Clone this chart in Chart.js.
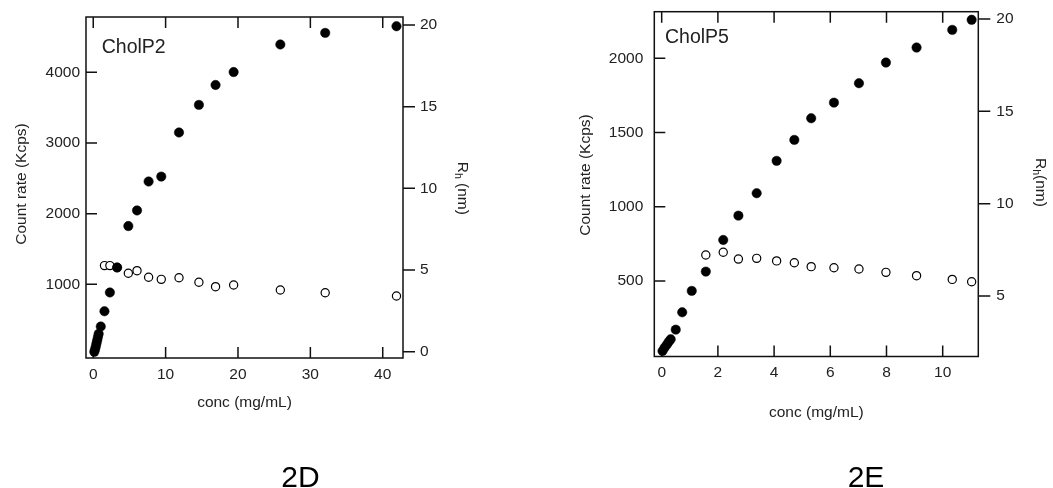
<!DOCTYPE html>
<html>
<head>
<meta charset="utf-8">
<script src="https://cdn.jsdelivr.net/npm/chart.js@4.4.1/dist/chart.umd.min.js"></script>
<style>
  html, body { margin: 0; padding: 0; background: #fff; }
  #wrap { position: relative; width: 1053px; height: 488px; overflow: hidden; }
  canvas { position: absolute; top: 0; }
  #c1 { left: 0; }
  #c2 { left: 527px; }
</style>
</head>
<body>
<div id="wrap">
  <canvas id="c1" width="527" height="488"></canvas>
  <canvas id="c2" width="526" height="488"></canvas>
</div>
<script>
// ---- CholP2 (panel 2D) ----
const conc2D  = [0.15, 0.25, 0.35, 0.45, 0.55, 0.65, 0.75, 1.04, 1.55, 2.3, 3.3, 4.85, 6.05, 7.65, 9.4, 11.85, 14.6, 16.9, 19.4, 25.85, 32.05, 41.9];
const count2D = [45, 80, 120, 165, 210, 255, 300, 403, 619, 885, 1239, 1825, 2046, 2455, 2525, 3149, 3539, 3821, 4004, 4394, 4558, 4652];
const rhConc2D = [1.55, 2.3, 3.3, 4.85, 6.05, 7.65, 9.4, 11.85, 14.6, 16.9, 19.4, 25.85, 32.05, 41.9];
const rh2D     = [5.27, 5.27, 5.15, 4.8, 4.96, 4.56, 4.43, 4.53, 4.25, 3.98, 4.08, 3.78, 3.61, 3.41];
const xTicks2D  = [0, 10, 20, 30, 40];
const yTicks2D  = [1000, 2000, 3000, 4000];
const rhTicks2D = [0, 5, 10, 15, 20];

// ---- CholP5 (panel 2E) ----
const conc2E  = [0.03, 0.1, 0.18, 0.25, 0.32, 0.5, 0.73, 1.07, 1.57, 2.19, 2.73, 3.38, 4.09, 4.72, 5.32, 6.13, 7.02, 7.98, 9.07, 10.34, 11.03];
const count2E = [28, 50, 70, 90, 107, 172, 289, 433, 563, 776, 940, 1091, 1309, 1450, 1596, 1701, 1832, 1971, 2072, 2191, 2259];
const rhConc2E = [1.57, 2.19, 2.73, 3.38, 4.09, 4.72, 5.32, 6.13, 7.02, 7.98, 9.07, 10.34, 11.03];
const rh2E     = [7.22, 7.37, 7.0, 7.04, 6.9, 6.8, 6.59, 6.53, 6.46, 6.28, 6.1, 5.9, 5.77];
const xTicks2E  = [0, 2, 4, 6, 8, 10];
const yTicks2E  = [500, 1000, 1500, 2000];
const rhTicks2E = [5, 10, 15, 20];

const INK = '#111';
const TEXT = '#222';
const FONT = '"Liberation Sans", Arial, Helvetica, sans-serif';

function pairs(xs, ys) { return xs.map((x, i) => ({ x: x, y: ys[i] })); }
const plain = v => String(v);

// Frame, inward/outward tick marks and all free text of one panel
const decor = {
  id: 'decor',
  beforeDatasetsDraw(chart, args, o) {
    const { ctx, chartArea: a, scales } = chart;
    ctx.save();
    ctx.strokeStyle = INK;
    ctx.lineWidth = 1.5;
    ctx.strokeRect(a.left, a.top, a.right - a.left, a.bottom - a.top);
    ctx.beginPath();
    scales.x.ticks.forEach(t => {
      const px = scales.x.getPixelForValue(t.value);
      ctx.moveTo(px, a.bottom); ctx.lineTo(px, a.bottom - o.tickIn);
      ctx.moveTo(px, a.top);    ctx.lineTo(px, a.top + o.tickIn);
    });
    scales.yL.ticks.forEach(t => {
      const py = scales.yL.getPixelForValue(t.value);
      ctx.moveTo(a.left - o.leftOut, py); ctx.lineTo(a.left + o.tickIn, py);
    });
    scales.yR.ticks.forEach(t => {
      const py = scales.yR.getPixelForValue(t.value);
      ctx.moveTo(a.right, py); ctx.lineTo(a.right + o.tickOut, py);
    });
    ctx.stroke();

    ctx.fillStyle = TEXT;
    // sample name inside the plot
    ctx.font = '19.5px ' + FONT;
    ctx.textAlign = 'left';
    ctx.textBaseline = 'alphabetic';
    ctx.fillText(o.name.text, o.name.x, o.name.y);

    // x title
    ctx.font = '15.5px ' + FONT;
    ctx.textAlign = 'center';
    ctx.textBaseline = 'middle';
    ctx.fillText(o.xTitle.text, o.xTitle.x, o.xTitle.y);

    // left y title (reads bottom to top)
    ctx.save();
    ctx.translate(o.yTitle.x, o.yTitle.y);
    ctx.rotate(-Math.PI / 2);
    ctx.fillText(o.yTitle.text, 0, 0);
    ctx.restore();

    // right y title with subscript (reads top to bottom)
    ctx.save();
    ctx.translate(o.rTitle.x, o.rTitle.y);
    ctx.rotate(Math.PI / 2);
    ctx.textAlign = 'left';
    ctx.font = '15.5px ' + FONT;
    const wR = ctx.measureText('R').width;
    const wTail = ctx.measureText(o.rTitle.tail).width;
    ctx.font = '10.5px ' + FONT;
    const wH = ctx.measureText('h').width;
    const x0 = -(wR + wH + wTail) / 2;
    ctx.font = '15.5px ' + FONT;
    ctx.fillText('R', x0, 0);
    ctx.font = '10.5px ' + FONT;
    ctx.fillText('h', x0 + wR, 5);
    ctx.font = '15.5px ' + FONT;
    ctx.fillText(o.rTitle.tail, x0 + wR + wH, 0);
    ctx.restore();

    // panel caption
    ctx.font = '30px ' + FONT;
    ctx.textAlign = 'center';
    ctx.textBaseline = 'alphabetic';
    ctx.fillStyle = '#000';
    ctx.fillText(o.panel.text, o.panel.x, o.panel.y);
    ctx.restore();
  }
};

// fixed box sizes so the plot frame sits exactly where wanted
function fixWidth(w) {
  return s => { s.width = w; s.paddingTop = 0; s.paddingBottom = 0; };
}
function fixHeight(h) {
  return s => { s.height = h; s.paddingLeft = 0; s.paddingRight = 0; };
}

function makePanel(p) {
  const W = p.width, H = 488;
  const tickFont = { family: FONT, size: 15.5 };
  return new Chart(document.getElementById(p.id), {
    type: 'scatter',
    data: {
      datasets: [
        {
          label: 'Count rate',
          data: pairs(p.conc, p.count),
          yAxisID: 'yL',
          pointRadius: 4.7,
          pointBackgroundColor: '#000',
          pointBorderColor: '#000',
          pointBorderWidth: 0.5,
          clip: false
        },
        {
          label: 'Rh',
          data: pairs(p.rhConc, p.rh),
          yAxisID: 'yR',
          pointRadius: 4.1,
          pointBackgroundColor: '#fff',
          pointBorderColor: '#000',
          pointBorderWidth: 1.2,
          clip: false
        }
      ]
    },
    options: {
      responsive: false,
      animation: false,
      devicePixelRatio: 1,
      layout: { padding: { top: p.area.top, left: 0, right: 0, bottom: 0 } },
      plugins: {
        legend: { display: false },
        tooltip: { enabled: false },
        decor: p.decor
      },
      scales: {
        x: {
          type: 'linear', position: 'bottom',
          min: p.xRange[0], max: p.xRange[1],
          afterBuildTicks: s => { s.ticks = p.xTicks.map(v => ({ value: v })); },
          afterFit: fixHeight(H - p.area.bottom),
          grid: { display: false, drawTicks: false },
          border: { display: false },
          ticks: { font: tickFont, color: TEXT, padding: p.xPad, maxRotation: 0, autoSkip: false, callback: plain }
        },
        yL: {
          type: 'linear', position: 'left',
          min: p.yRange[0], max: p.yRange[1],
          afterBuildTicks: s => { s.ticks = p.yTicks.map(v => ({ value: v })); },
          afterFit: fixWidth(p.area.left),
          grid: { display: false, drawTicks: false },
          border: { display: false },
          ticks: { font: tickFont, color: TEXT, padding: p.yPad, autoSkip: false, callback: plain }
        },
        yR: {
          type: 'linear', position: 'right',
          min: p.rRange[0], max: p.rRange[1],
          afterBuildTicks: s => { s.ticks = p.rTicks.map(v => ({ value: v })); },
          afterFit: fixWidth(W - p.area.right),
          grid: { display: false, drawTicks: false },
          border: { display: false },
          ticks: { font: tickFont, color: TEXT, padding: p.rPad, autoSkip: false, callback: plain }
        }
      }
    },
    plugins: [decor]
  });
}

makePanel({
  id: 'c1', width: 527,
  area: { left: 86, top: 17, right: 403, bottom: 358 },
  conc: conc2D, count: count2D, rhConc: rhConc2D, rh: rh2D,
  xTicks: xTicks2D, yTicks: yTicks2D, rTicks: rhTicks2D,
  xRange: [-1.0, 42.8], yRange: [-42, 4783], rRange: [-0.386, 20.49],
  xPad: 7.5, yPad: 6, rPad: 17,
  decor: {
    tickIn: 11, tickOut: 12, leftOut: 0,
    name: { text: 'CholP2', x: 101.7, y: 52.7 },
    xTitle: { text: 'conc (mg/mL)', x: 244.5, y: 403 },
    yTitle: { text: 'Count rate (Kcps)', x: 22, y: 184 },
    rTitle: { tail: ' (nm)', x: 462.5, y: 188.3 },
    panel: { text: '2D', x: 300.5, y: 486.5 }
  }
});

makePanel({
  id: 'c2', width: 526,
  area: { left: 127.3, top: 11.7, right: 451.3, bottom: 356.5 },
  conc: conc2E, count: count2E, rhConc: rhConc2E, rh: rh2E,
  xTicks: xTicks2E, yTicks: yTicks2E, rTicks: rhTicks2E,
  xRange: [-0.263, 11.267], yRange: [-8.8, 2313.6], rRange: [1.724, 20.395],
  xPad: 7, yPad: 11, rPad: 18,
  decor: {
    tickIn: 11, tickOut: 12, leftOut: 0,
    name: { text: 'CholP5', x: 138, y: 43.3 },
    xTitle: { text: 'conc (mg/mL)', x: 289.3, y: 412.5 },
    yTitle: { text: 'Count rate (Kcps)', x: 58.5, y: 175 },
    rTitle: { tail: '(nm)', x: 513.5, y: 182.5 },
    panel: { text: '2E', x: 339, y: 486.5 }
  }
});
</script>
</body>
</html>
